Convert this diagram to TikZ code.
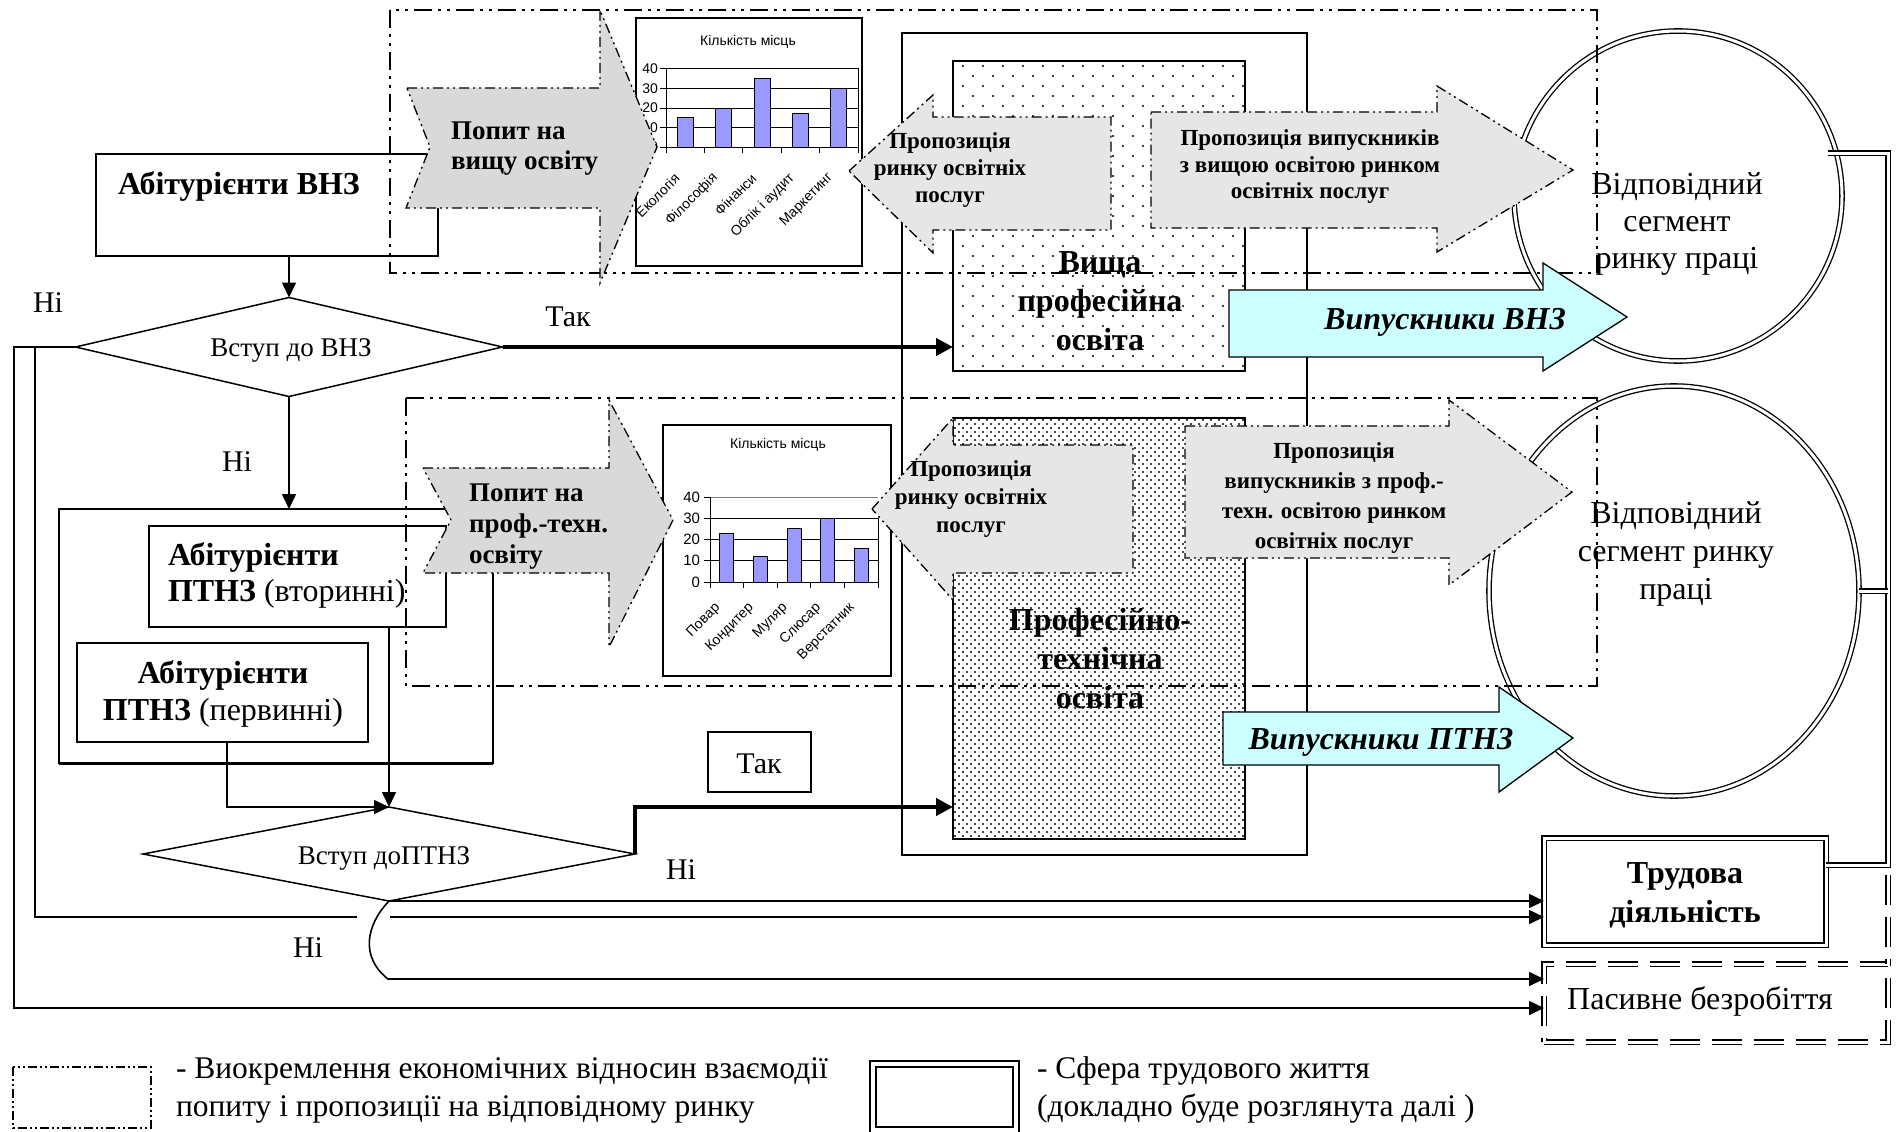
\documentclass[tikz,border=0pt]{standalone}
\usepackage{fontspec}
\setmainfont{Liberation Serif}
\newfontfamily\chartfont{Liberation Sans}
\usetikzlibrary{arrows.meta,shapes.geometric,calc}
\newcommand\fsz[2]{\fontsize{#1}{#2}\selectfont}

\definecolor{gdemand}{HTML}{D9D9D9}
\definecolor{gsupply}{HTML}{E6E6E6}
\definecolor{cyanfill}{HTML}{CCFFFF}
\definecolor{barblue}{HTML}{9999FF}

\begin{document}
\begin{tikzpicture}[x=1pt,y=-1pt,
  every node/.style={inner sep=0pt,outer sep=0pt},
  frame/.style={line width=2pt,dash pattern=on 18pt off 6pt on 3pt off 6pt on 3pt off 6pt},
  legdash/.style={line width=1.2pt,dash pattern=on 9pt off 3pt on 2pt off 3pt on 2pt off 3pt},
  shapeout/.style={line width=1.3pt,dash pattern=on 10pt off 4pt on 2pt off 4pt on 2pt off 4pt},
  box/.style={draw,line width=1.8pt},
  flow/.style={line width=1.6pt,-{Triangle[length=15pt,width=14pt]}},
  thickflow/.style={line width=4.5pt,line join=miter,-{Triangle[length=17pt,width=17pt]}},
  dbl/.style={double,double distance=3pt,line width=1.3pt},
  ddash/.style={dash pattern=on 30pt off 12pt},
  bold/.style={font=\bfseries\fsz{32}{38}},
  plain/.style={font=\fsz{30}{36}},
  chart/.style={font=\chartfont\fsz{14}{16}}
]
\useasboundingbox (0,0) rectangle (1896,1132);
\fill[white] (0,0) rectangle (1896,1132);

% ---------- higher education block ----------
\node[draw,line width=1.4pt,minimum width=405pt,minimum height=822pt] (vnzouter) at (1104.5,444) {};

\node[draw,line width=1.8pt,minimum width=292pt,minimum height=310pt] (vnz) at (1099,216) {};
\begin{scope}
  \clip (953,61) rectangle (1245,371);
  \foreach \j in {0,...,30}{
    \foreach \i in {0,...,14}{
      \fill ({963+20*\i+10*mod(\j,2)},{66+10*\j}) circle (1.1pt);
    }
  }
\end{scope}

\node[draw,line width=1.8pt,minimum width=292pt,minimum height=421pt] (ptz) at (1099,628.5) {};
\begin{scope}
  \clip (953,418) rectangle (1245,839);
  \foreach \j in {0,...,104}{
    \foreach \i in {0,...,36}{
      \fill ({955+8*\i+4*mod(\j,2)},{420+4*\j}) circle (1.15pt);
    }
  }
\end{scope}

% ---------- labour market segments ----------
\node[ellipse,draw,dbl,minimum width=328pt,minimum height=330pt] (ell1) at (1678,196) {};
\node[ellipse,draw,dbl,minimum width=370pt,minimum height=410pt] (ell2) at (1674,591) {};

% ---------- chart: places in higher education ----------
\node[draw,fill=white,line width=1.4pt,minimum width=226pt,minimum height=248pt] (chartA) at (749,142) {};
\node[chart] (chartAt) at (748,42) {Кількість місць};
\foreach \v in {10,20,30} \draw[line width=1pt] (666,{147-1.95*\v}) -- (858,{147-1.95*\v});
\draw[line width=1pt] (666,69) rectangle (858,147);
\foreach \c/\v in {0/15,1/20,2/35,3/17,4/30}
  \filldraw[fill=barblue,line width=1pt] ({666+38.4*\c+11.2},147) rectangle ++(16,{-1.95*\v});
\foreach \k/\t in {0/0,1/10,2/20,3/30,4/40}{
  \draw[line width=1pt] (660,{147-19.5*\k}) -- (666,{147-19.5*\k});
  \node[chart,anchor=east] at (658,{147-19.5*\k}) {\t};
}
\foreach \c in {0,...,5} \draw[line width=1pt] ({666+38.4*\c},147) -- ++(0,6);
\foreach \c/\t in {0/Екологія,1/Філософія,2/Фінанси,3/Облік і аудит,4/Маркетинг}
  \node[chart,rotate=45,anchor=east] at ({666+38.4*\c+11},176) {\t};

% ---------- chart: places in vocational education ----------
\node[draw,fill=white,line width=1.4pt,minimum width=228pt,minimum height=251pt] (chartB) at (777,550.5) {};
\node[chart] (chartBt) at (778,445) {Кількість місць};
\foreach \v in {10,20,30} \draw[line width=1pt] (710,{582-2.125*\v}) -- (878,{582-2.125*\v});
\draw[line width=1pt,gray] (710,497) -- (878,497);
\draw[line width=1pt] (710,497) -- (710,582) -- (878,582) -- (878,518);
\foreach \c/\v in {0/23,1/12,2/25,3/30,4/16}
  \filldraw[fill=barblue,line width=1pt] ({710+33.6*\c+9.8},582) rectangle ++(14,{-2.125*\v});
\foreach \k/\t in {0/0,1/10,2/20,3/30,4/40}{
  \draw[line width=1pt] (704,{582-21.25*\k}) -- (710,{582-21.25*\k});
  \node[chart,font=\chartfont\fsz{15}{17},anchor=east] at (700,{582-21.25*\k}) {\t};
}
\foreach \c in {0,...,5} \draw[line width=1pt] ({710+33.6*\c},582) -- ++(0,6);
\foreach \c/\t in {0/Повар,1/Кондитер,2/Муляр,3/Слюсар,4/Верстатник}
  \node[chart,rotate=45,anchor=east] at ({710+33.6*\c+8},606) {\t};

% ---------- applicants and decisions ----------
\node[box,minimum width=342pt,minimum height=102pt] (abvnz) at (267,205) {};
\node[bold,anchor=west] (abvnzt) at (118,186) {Абітурієнти ВНЗ};

\node[diamond,draw,line width=1.5pt,minimum width=427pt,minimum height=99pt] (d1) at (289,347) {};
\node[font=\fsz{27}{30}] (d1t) at (291,350) {Вступ до ВНЗ};

\node[box,minimum width=434pt,minimum height=254pt] (ptgrp) at (276,636) {};
\draw[line width=3pt] (ptgrp.south west) -- (ptgrp.south east);
\node[box,minimum width=297pt,minimum height=101pt] (ptv) at (297.5,576.5) {};
\node[anchor=west,align=left,font=\fsz{32}{36}] (ptvt) at (168,575)
  {\textbf{Абітурієнти}\\\textbf{ПТНЗ} (вторинні)};
\node[box,minimum width=291pt,minimum height=99pt] (ptp) at (222.5,692.5) {};
\node[align=center,font=\fsz{32}{37}] (ptpt) at (223,694)
  {\textbf{Абітурієнти}\\\textbf{ПТНЗ} (первинні)};

\node[diamond,draw,line width=1.5pt,minimum width=492pt,minimum height=94pt] (d2) at (389,854) {};
\node[font=\fsz{27}{30}] (d2t) at (384,858) {Вступ доПТНЗ};

\node[draw,line width=1.4pt,minimum width=103pt,minimum height=60pt] (takbox) at (759.5,762) {};
\node[plain] (takt) at (759,764) {Так};

% ---------- working life ----------
\node[draw,dbl,minimum width=282pt,minimum height=107pt] (trud) at (1685,891.5) {};
\node[align=center,font=\bfseries\fsz{32}{39}] (trudt) at (1685,895) {Трудова\\діяльність};
\node[draw,dbl,ddash,minimum width=344pt,minimum height=78pt] (pas) at (1716,1003) {};
\node[font=\fsz{32}{36}] (past) at (1700,1001) {Пасивне безробіття};

\coordinate (rtop) at (1888,153);
\coordinate (rbot) at (1888,865);
\coordinate (e1c) at (1828,153);
\draw[dbl] (e1c) -- (rtop) -- (rbot) -- (trud.east |- rbot);
\draw[dbl] (ell2.east) -- (ell2.east -| rtop);
\draw[dbl,ddash] ([yshift=-10pt]rbot) -- (pas.north east);

% ---------- connectors ----------
\coordinate (lo) at (14,347);
\coordinate (li) at (35,347);
\coordinate (gapL) at (357,917);
\coordinate (gapR) at (390,917);
\coordinate (cv) at (388,979);
\coordinate (lowrow) at (14,1008);

\draw[flow] (abvnz.south -| d1.north) -- (d1.north);
\draw[flow] (d1.south) -- (ptgrp.north -| d1.south);
\draw[thickflow] (d1.east) -- (vnz.west |- d1.east);
\draw[flow] (ptv.south -| d2.north) -- (d2.north);
\draw[flow] ([xshift=4.5pt]ptp.south) |- (d2.north);
\draw[thickflow] (d2.east) |- (ptz.west |- d2.north);

\draw[flow] (d1.west) -- (lo) -- (lowrow) -- (pas.west |- lowrow);
\draw[line width=1.6pt] (li) |- (gapL);
\draw[flow] (gapR) -- (trud.west |- gapR);
\draw[flow] (d2.south) -- (trud.west |- d2.south);
\draw[flow] (d2.south) .. controls (366,925) and (360,957) .. (cv) -- (pas.west |- cv);

% ---------- market frames ----------
\draw[frame] (390,10) rectangle (1597,273);
\draw[frame] (406,398) rectangle (1597,686);

% ---------- demand and supply arrows ----------
\draw[shapeout,fill=gdemand] (407,88) -- (600,88) -- (600,10) -- (657,147) -- (600,283)
  -- (600,208) -- (406,208) -- (430,147) -- cycle;
\node[anchor=west,align=left,font=\bfseries\fsz{27}{30}] (dem1) at (451,149) {Попит на\\вищу освіту};

\draw[shapeout,fill=gdemand] (423,468) -- (609,468) -- (609,400) -- (673,520) -- (609,647)
  -- (609,573) -- (423,573) -- (451,520) -- cycle;
\node[anchor=west,align=left,font=\bfseries\fsz{27}{31}] (dem2) at (469,527) {Попит на\\проф.-техн.\\освіту};

\draw[shapeout,fill=gsupply] (849,171) -- (933,95) -- (933,117) -- (1111,117) -- (1111,230)
  -- (933,230) -- (933,253) -- cycle;
\node[align=center,font=\bfseries\fsz{23}{27}] (sup1) at (950,170) {Пропозиція\\ринку освітніх\\послуг};

\draw[shapeout,fill=gsupply] (1151,112) -- (1437,112) -- (1437,86) -- (1573,170) -- (1437,252)
  -- (1437,228) -- (1151,228) -- cycle;
\node[align=center,font=\bfseries\fsz{23}{26.5}] (sup2) at (1310,167)
  {Пропозиція випускників\\з вищою освітою ринком\\освітніх послуг};

\draw[shapeout,fill=gsupply] (872,509) -- (953,418) -- (953,445) -- (1133,445) -- (1133,573)
  -- (953,573) -- (953,600) -- cycle;
\node[align=center,font=\bfseries\fsz{23}{28}] (sup3) at (971,499) {Пропозиція\\ринку освітніх\\послуг};

\draw[shapeout,fill=gsupply] (1185,426) -- (1449,426) -- (1449,400) -- (1572,492) -- (1449,585)
  -- (1449,558) -- (1185,558) -- cycle;
\node[align=center,font=\bfseries\fsz{23}{30}] (sup4) at (1334,498)
  {Пропозиція\\випускників з проф.-\\техн. освітою ринком\\освітніх послуг};

% ---------- graduates ----------
\draw[line width=1.3pt,fill=cyanfill] (1229,290) -- (1543,290) -- (1543,263) -- (1627,317)
  -- (1543,371) -- (1543,357) -- (1229,357) -- cycle;
\node[font=\bfseries\itshape\fsz{32}{36}] (grad1) at (1445,322) {Випускники ВНЗ};
\draw[line width=1.3pt,fill=cyanfill] (1223,712) -- (1499,712) -- (1499,687) -- (1573,738)
  -- (1499,792) -- (1499,765) -- (1223,765) -- cycle;
\node[font=\bfseries\itshape\fsz{32}{36}] (grad2) at (1381,742) {Випускники ПТНЗ};

% ---------- texts over the pictures ----------
\node[align=center,font=\bfseries\fsz{32}{39}] (vnzt) at (1100,301) {Вища\\професійна\\освіта};
\node[align=center,font=\bfseries\fsz{32}{39}] (ptzt) at (1100,659) {Професійно-\\технічна\\освіта};
\node[align=center,font=\fsz{32}{37}] (ell1t) at (1677,224) {Відповідний\\сегмент\\ринку праці};
\node[align=center,font=\fsz{32}{38}] (ell2t) at (1676,554) {Відповідний\\сегмент ринку\\праці};

\node[plain] (no1) at (48,303) {Ні};
\node[plain] (no2) at (237,462) {Ні};
\node[plain] (no3) at (308,948) {Ні};
\node[plain] (no4) at (681,870) {Ні};
\node[plain] (yes1) at (568,317) {Так};

% ---------- legend ----------
\draw[legdash] (13,1067) rectangle (151,1128);
\node[anchor=west,align=left,font=\fsz{31.5}{38}] (leg1) at (176,1090)
  {- Виокремлення економічних відносин взаємодії\\попиту і пропозиції на відповідному ринку};
\node[draw,double,double distance=4pt,line width=1.8pt,minimum width=143pt,minimum height=66pt] (legbox) at (944.5,1097) {};
\node[anchor=west,align=left,font=\fsz{31.5}{38}] (leg2) at (1037,1090)
  {- Сфера трудового життя\\(докладно буде розглянута далі )};
\end{tikzpicture}
\end{document}
